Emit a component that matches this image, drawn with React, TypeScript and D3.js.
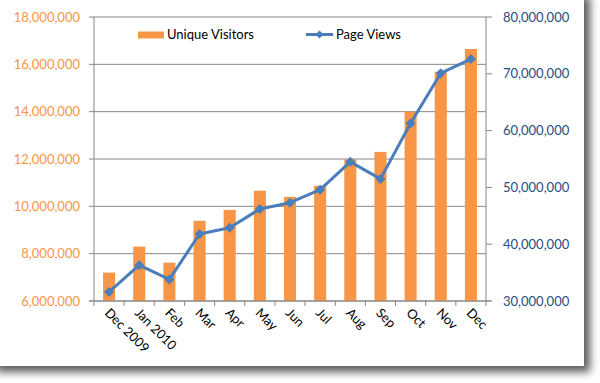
import React from "react";
import * as d3 from "d3";

const categories = ["Dec 2009", "Jan 2010", "Feb", "Mar", "Apr", "May", "Jun", "Jul", "Aug", "Sep", "Oct", "Nov", "Dec"];
const uniqueVisitors = [7200000, 8300000, 7620000, 9390000, 9850000, 10660000, 10400000, 10870000, 11990000, 12300000, 14000000, 15690000, 16650000];
const pageViews = [31600000, 36300000, 33800000, 41800000, 42900000, 46200000, 47300000, 49600000, 54500000, 51500000, 61300000, 70100000, 72600000];
const leftTicks = [6000000, 8000000, 10000000, 12000000, 14000000, 16000000, 18000000];
const rightTicks = [30000000, 40000000, 50000000, 60000000, 70000000, 80000000];

const W = 600, H = 383;
const L = 94, R = 486, T = 17, B = 301;
const FONT = "Lato, 'Open Sans', sans-serif";
const ORANGE = "#F79646";
const BLUE = "#4A7EBB";
const AXIS = "#868686";

export default function App() {
  const x = d3.scaleBand<string>().domain(categories).range([L, R]).paddingInner(0).paddingOuter(0);
  const yL = d3.scaleLinear().domain([6000000, 18000000]).range([B, T]);
  const yR = d3.scaleLinear().domain([30000000, 80000000]).range([B, T]);
  const fmt = d3.format(",");
  const bw = x.bandwidth() * 0.4;
  const cx = (c: string) => (x(c) as number) + x.bandwidth() / 2;
  const line = d3.line<number>().x((_, i) => cx(categories[i])).y((d) => yR(d));
  const diamond = (px: number, py: number, r: number) => `M${px},${py - r}L${px + r},${py}L${px},${py + r}L${px - r},${py}Z`;
  const boundaries = categories.map((c) => x(c) as number).concat([R]);

  return (
    <svg width={W} height={H} style={{ position: "absolute", left: 0, top: 0 }} fontFamily={FONT}>
      <defs>
        <filter id="sh" x="-5%" y="-5%" width="115%" height="115%">
          <feGaussianBlur in="SourceAlpha" stdDeviation="4.5" />
          <feOffset dx="6" dy="6" result="b" />
          <feComponentTransfer>
            <feFuncA type="linear" slope="0.65" />
          </feComponentTransfer>
          <feMerge>
            <feMergeNode />
            <feMergeNode in="SourceGraphic" />
          </feMerge>
        </filter>
      </defs>
      <rect x={-10} y={-10} width={594} height={376} fill="#fff" filter="url(#sh)" />
      {leftTicks.map((t) => (
        <line key={t} x1={L} x2={R} y1={yL(t)} y2={yL(t)} stroke={AXIS} strokeWidth={1} />
      ))}
      {uniqueVisitors.map((v, i) => (
        <rect key={i} x={cx(categories[i]) - bw / 2} y={yL(v)} width={bw} height={B - yL(v)} fill={ORANGE} />
      ))}
      <line x1={L} x2={L} y1={T} y2={B} stroke={AXIS} />
      <line x1={R} x2={R} y1={T} y2={B} stroke={AXIS} />
      <line x1={L - 5} x2={R + 5} y1={B} y2={B} stroke={AXIS} />
      {leftTicks.map((t) => (
        <g key={t}>
          <line x1={L - 5} x2={L} y1={yL(t)} y2={yL(t)} stroke={AXIS} />
          <text x={80} y={yL(t)} dy="0.35em" textAnchor="end" fontSize={13} fill={ORANGE}>{fmt(t)}</text>
        </g>
      ))}
      {rightTicks.map((t) => (
        <g key={t}>
          <line x1={R} x2={R + 6} y1={yR(t)} y2={yR(t)} stroke={AXIS} />
          <text x={503} y={yR(t)} dy="0.35em" textAnchor="start" fontSize={13} fill="#254D84">{fmt(t)}</text>
        </g>
      ))}
      {boundaries.map((b, i) => (
        <line key={i} x1={b} x2={b} y1={B} y2={B + 5} stroke={AXIS} />
      ))}
      {categories.map((c) => (
        <text key={c} transform={`translate(${cx(c) + 1.5},${307}) rotate(45)`} dy="0.72em" fontSize={13} fill="#000">{c}</text>
      ))}
      <path d={line(pageViews) || ""} fill="none" stroke={BLUE} strokeWidth={3} strokeLinejoin="round" />
      {pageViews.map((v, i) => (
        <path key={i} d={diamond(cx(categories[i]), yR(v), 5)} fill={BLUE} />
      ))}
      <rect x={138} y={31.5} width={26} height={7} fill={ORANGE} />
      <text x={167} y={38.5} fontSize={13} fill="#000">Unique Visitors</text>
      <line x1={306} x2={333} y1={34.5} y2={34.5} stroke={BLUE} strokeWidth={3} />
      <path d={diamond(319.5, 34.5, 4)} fill={BLUE} />
      <text x={336} y={38.5} fontSize={13} fill="#000">Page Views</text>
    </svg>
  );
}
